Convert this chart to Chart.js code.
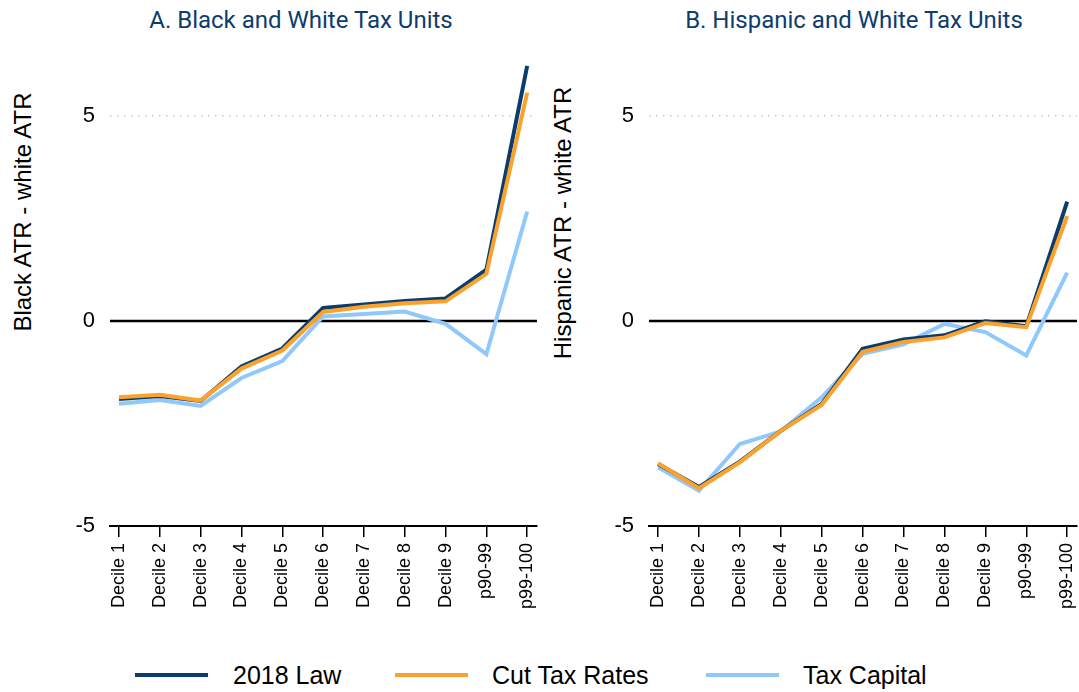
<!DOCTYPE html>
<html>
<head>
<meta charset="utf-8">
<script src="https://cdn.jsdelivr.net/npm/chart.js@4.4.1/dist/chart.umd.min.js"></script>
<style>
    body { margin: 0; background: #fff; }
    #wrap { position: relative; width: 1079px; height: 692px; overflow: hidden; font-family: "Liberation Sans", Arial, sans-serif; }
    canvas { position: absolute; top: 0; }
    .panelTitle { position: absolute; top: 6px; transform: translateX(-50%); font-family: Roboto, sans-serif; font-size: 24px; line-height: 28px; color: #0d3c6e; white-space: nowrap; }
    .yTitle { position: absolute; transform: translate(-50%, -50%) rotate(-90deg); font-size: 24px; color: #000; white-space: nowrap; }
    .legendLine { position: absolute; top: 673px; height: 4px; width: 73px; }
    .legendText { position: absolute; top: 661px; font-size: 25px; line-height: 29px; color: #000; white-space: nowrap; }
</style>
</head>
<body>
<div id="wrap">
    <div class="panelTitle" style="left:301px">A. Black and White Tax Units</div>
    <div class="panelTitle" style="left:854px">B. Hispanic and White Tax Units</div>
    <div class="yTitle" style="left:23px; top:212px">Black ATR - white ATR</div>
    <div class="yTitle" style="left:563px; top:223px">Hispanic ATR - white ATR</div>
    <canvas id="chartA" width="545" height="640" style="left:0"></canvas>
    <canvas id="chartB" width="534" height="640" style="left:545px"></canvas>
    <div class="legendLine" style="left:135px; background:#0a3d6e"></div>
    <div class="legendText" style="left:233px">2018 Law</div>
    <div class="legendLine" style="left:395px; background:#fca12a"></div>
    <div class="legendText" style="left:492px">Cut Tax Rates</div>
    <div class="legendLine" style="left:706px; background:#90c8fc"></div>
    <div class="legendText" style="left:803px">Tax Capital</div>
</div>
<script>
const categories = ["Decile 1", "Decile 2", "Decile 3", "Decile 4", "Decile 5", "Decile 6", "Decile 7", "Decile 8", "Decile 9", "p90-99", "p99-100"];
const yTicks = [-5, 0, 5];

// panel A: black minus white average tax rate
const blackLaw2018 = [-1.90, -1.83, -1.95, -1.11, -0.67, 0.32, 0.40, 0.49, 0.55, 1.25, 6.22];
const blackCutRates = [-1.86, -1.80, -1.94, -1.16, -0.72, 0.22, 0.35, 0.43, 0.48, 1.15, 5.57];
const blackTaxCapital = [-2.02, -1.93, -2.07, -1.39, -0.98, 0.11, 0.17, 0.23, -0.07, -0.81, 2.67];

// panel B: hispanic minus white average tax rate
const hispLaw2018 = [-3.49, -4.05, -3.43, -2.68, -2.02, -0.68, -0.45, -0.35, -0.01, -0.13, 2.91];
const hispCutRates = [-3.47, -4.08, -3.45, -2.68, -2.05, -0.75, -0.51, -0.40, -0.05, -0.15, 2.56];
const hispTaxCapital = [-3.57, -4.14, -3.00, -2.69, -1.86, -0.80, -0.57, -0.07, -0.27, -0.84, 1.18];

const colors = { law: "#0a3d6e", cut: "#fca12a", capital: "#90c8fc" };
const tickFont = { family: "'Liberation Sans', Arial, sans-serif" };

const zeroLine = {
    id: "zeroLine",
    beforeDatasetsDraw(chart) {
        const { ctx, chartArea, scales } = chart;
        const y = scales.y.getPixelForValue(0);
        ctx.save();
        ctx.strokeStyle = "#000";
        ctx.lineWidth = 2.5;
        ctx.beginPath();
        ctx.moveTo(chartArea.left, y);
        ctx.lineTo(chartArea.right, y);
        ctx.stroke();
        ctx.restore();
    }
};

function toPoints(values) {
    return values.map((v, i) => ({ x: i, y: v }));
}

function makeDataset(values, color) {
    return {
        data: toPoints(values),
        borderColor: color,
        backgroundColor: color,
        borderWidth: 4,
        pointRadius: 0,
        tension: 0,
        fill: false
    };
}

function makeChart(canvasId, law, cut, capital, yWidth, padRight) {
    return new Chart(document.getElementById(canvasId), {
        type: "line",
        data: {
            // first dataset is drawn on top
            datasets: [
                makeDataset(cut, colors.cut),
                makeDataset(law, colors.law),
                makeDataset(capital, colors.capital)
            ]
        },
        options: {
            responsive: false,
            animation: false,
            layout: { padding: { top: 54.5, right: padRight, bottom: 0, left: 0 } },
            plugins: {
                legend: { display: false },
                tooltip: { enabled: false },
                title: { display: false }
            },
            scales: {
                x: {
                    type: "linear",
                    min: -0.22,
                    max: 10.24,
                    afterBuildTicks(scale) {
                        scale.ticks = categories.map((_c, i) => ({ value: i }));
                    },
                    afterFit(scale) {
                        scale.height = 114;
                        // labels stay inside the plot, no extra side padding needed
                        scale.paddingLeft = 0;
                        scale.paddingRight = 0;
                    },
                    ticks: {
                        autoSkip: false,
                        minRotation: 90,
                        maxRotation: 90,
                        padding: 6,
                        color: "#000",
                        font: { ...tickFont, size: 18 },
                        callback: (value) => categories[value]
                    },
                    grid: {
                        drawOnChartArea: false,
                        drawTicks: true,
                        tickLength: 11,
                        color: "#000",
                        lineWidth: 1.5
                    },
                    border: { display: true, color: "#000", width: 2 }
                },
                y: {
                    min: -5,
                    max: 6.5,
                    afterBuildTicks(scale) {
                        scale.ticks = yTicks.map((v) => ({ value: v }));
                    },
                    afterFit(scale) {
                        scale.width = yWidth;
                    },
                    ticks: {
                        padding: 15,
                        color: "#000",
                        font: { ...tickFont, size: 22 }
                    },
                    grid: {
                        drawTicks: false,
                        color: (ctx) => (ctx.tick && ctx.tick.value === 5 ? "#c8c8c8" : "rgba(0,0,0,0)"),
                        lineWidth: 1.5
                    },
                    border: { display: false, dash: [1.5, 5.5] }
                }
            }
        },
        plugins: [zeroLine]
    });
}

makeChart("chartA", blackLaw2018, blackCutRates, blackTaxCapital, 110, 8);
makeChart("chartB", hispLaw2018, hispCutRates, hispTaxCapital, 104, 2);
</script>
</body>
</html>
